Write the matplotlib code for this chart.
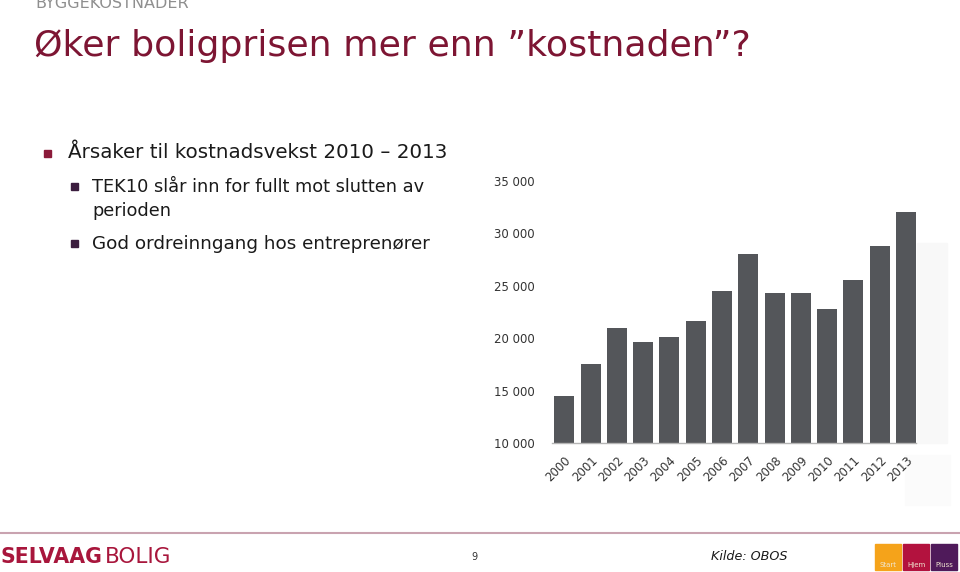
import matplotlib
matplotlib.use("Agg")
import matplotlib.pyplot as plt
from matplotlib.patches import Rectangle

years = ["2000", "2001", "2002", "2003", "2004", "2005", "2006",
         "2007", "2008", "2009", "2010", "2011", "2012", "2013"]
costs = [14500, 17500, 21000, 19650, 20100, 21600, 24500,
         28000, 24250, 24250, 22800, 25550, 28800, 32000]
yticks = [10000, 15000, 20000, 25000, 30000, 35000]
ytick_labels = ["10 000", "15 000", "20 000", "25 000", "30 000", "35 000"]

W, H = 960, 572
plt.rcParams['font.family'] = ['DejaVu Sans']

fig = plt.figure(figsize=(9.6, 5.72), dpi=100)


def fx(x):
	return x / W


def fy(y):
	return 1 - y / H


def txt(x, y, s, **kw):
	fig.text(fx(x), fy(y), s, **kw)


# header
txt(35, 4, "BYGGEKOSTNADER", fontsize=11.5, color="#8f8f8f", va="center")
txt(34, 46, "Øker boligprisen mer enn ”kostnaden”?", fontsize=26.2,
	color="#7d1533", va="center")

# bullets
red_sq = "#8b1a3a"
purple_sq = "#3b1d3e"
fig.patches.append(Rectangle((fx(44), fy(157)), 7 / W, 7 / H,
	transform=fig.transFigure, color=red_sq))
txt(68, 153, "Årsaker til kostnadsvekst 2010 – 2013", fontsize=14.3,
	color="#1a1a1a", va="center")
for yy in (190, 247):
	fig.patches.append(Rectangle((fx(71), fy(yy)), 7 / W, 7 / H,
		transform=fig.transFigure, color=purple_sq))
txt(92, 187, "TEK10 slår inn for fullt mot slutten av", fontsize=12.8,
	color="#1a1a1a", va="center")
txt(92, 211, "perioden", fontsize=12.8, color="#1a1a1a", va="center")
txt(92, 244, "God ordreinngang hos entreprenører", fontsize=13.2,
	color="#1a1a1a", va="center")

# chart
ax = fig.add_axes([fx(551.7), fy(443), (916 - 551.7) / W, (443 - 180.7) / H])
x = list(range(len(years)))
ax.bar(x, [c - 10000 for c in costs], bottom=10000, width=0.76, color="#54565a")
ax.set_xlim(-0.48, 13.38)
ax.set_ylim(10000, 35000)
ax.set_yticks(yticks)
ax.set_yticklabels(ytick_labels, fontsize=8.5, color="#333333")
ax.set_xticks(x)
ax.set_xticklabels(years, rotation=45, ha="right", rotation_mode="anchor",
	fontsize=8.5, color="#333333")
ax.tick_params(axis="both", length=0)
ax.tick_params(axis="y", pad=12)
ax.tick_params(axis="x", pad=8)
for side in ("top", "right", "left"):
	ax.spines[side].set_visible(False)
ax.spines["bottom"].set_color("#b5b5b5")
ax.spines["bottom"].set_linewidth(1)
ax.patch.set_alpha(0)

# faint leftover boxes to the right
fig.patches.append(Rectangle((fx(917), fy(443)), 30 / W, 200 / H,
	transform=fig.transFigure, color="#f8f8f8", zorder=-1))
fig.patches.append(Rectangle((fx(905), fy(505)), 45 / W, 50 / H,
	transform=fig.transFigure, color="#fbfbfb", zorder=-1))

# footer
fig.add_artist(plt.Line2D([0, 1], [fy(533), fy(533)], transform=fig.transFigure,
	color="#c9a3b0", linewidth=1.5))
txt(1, 557, "SELVAAG", fontsize=14.8, fontweight="bold", color="#a8163c",
	va="center", family=["Liberation Sans Narrow", "DejaVu Sans"])
txt(105, 557, "BOLIG", fontsize=15.5, color="#a8163c",
	va="center", family=["Liberation Sans Narrow", "DejaVu Sans"])
txt(474, 557, "9", fontsize=7, color="#333333", va="center", ha="center")
txt(711, 556, "Kilde: OBOS", fontsize=9.2, style="italic", color="#1a1a1a",
	va="center")

boxes = [(875, "#f5a31a", "Start"), (903, "#b3123e", "Hjem"),
	(931, "#4f1a5a", "Pluss")]
for bx, col, lab in boxes:
	fig.patches.append(Rectangle((fx(bx), fy(570)), 26 / W, 26 / H,
		transform=fig.transFigure, color=col))
	txt(bx + 13, 565, lab, fontsize=5, color="#f0e6d0", ha="center", va="center")

fig.savefig("out.png", dpi=100)
